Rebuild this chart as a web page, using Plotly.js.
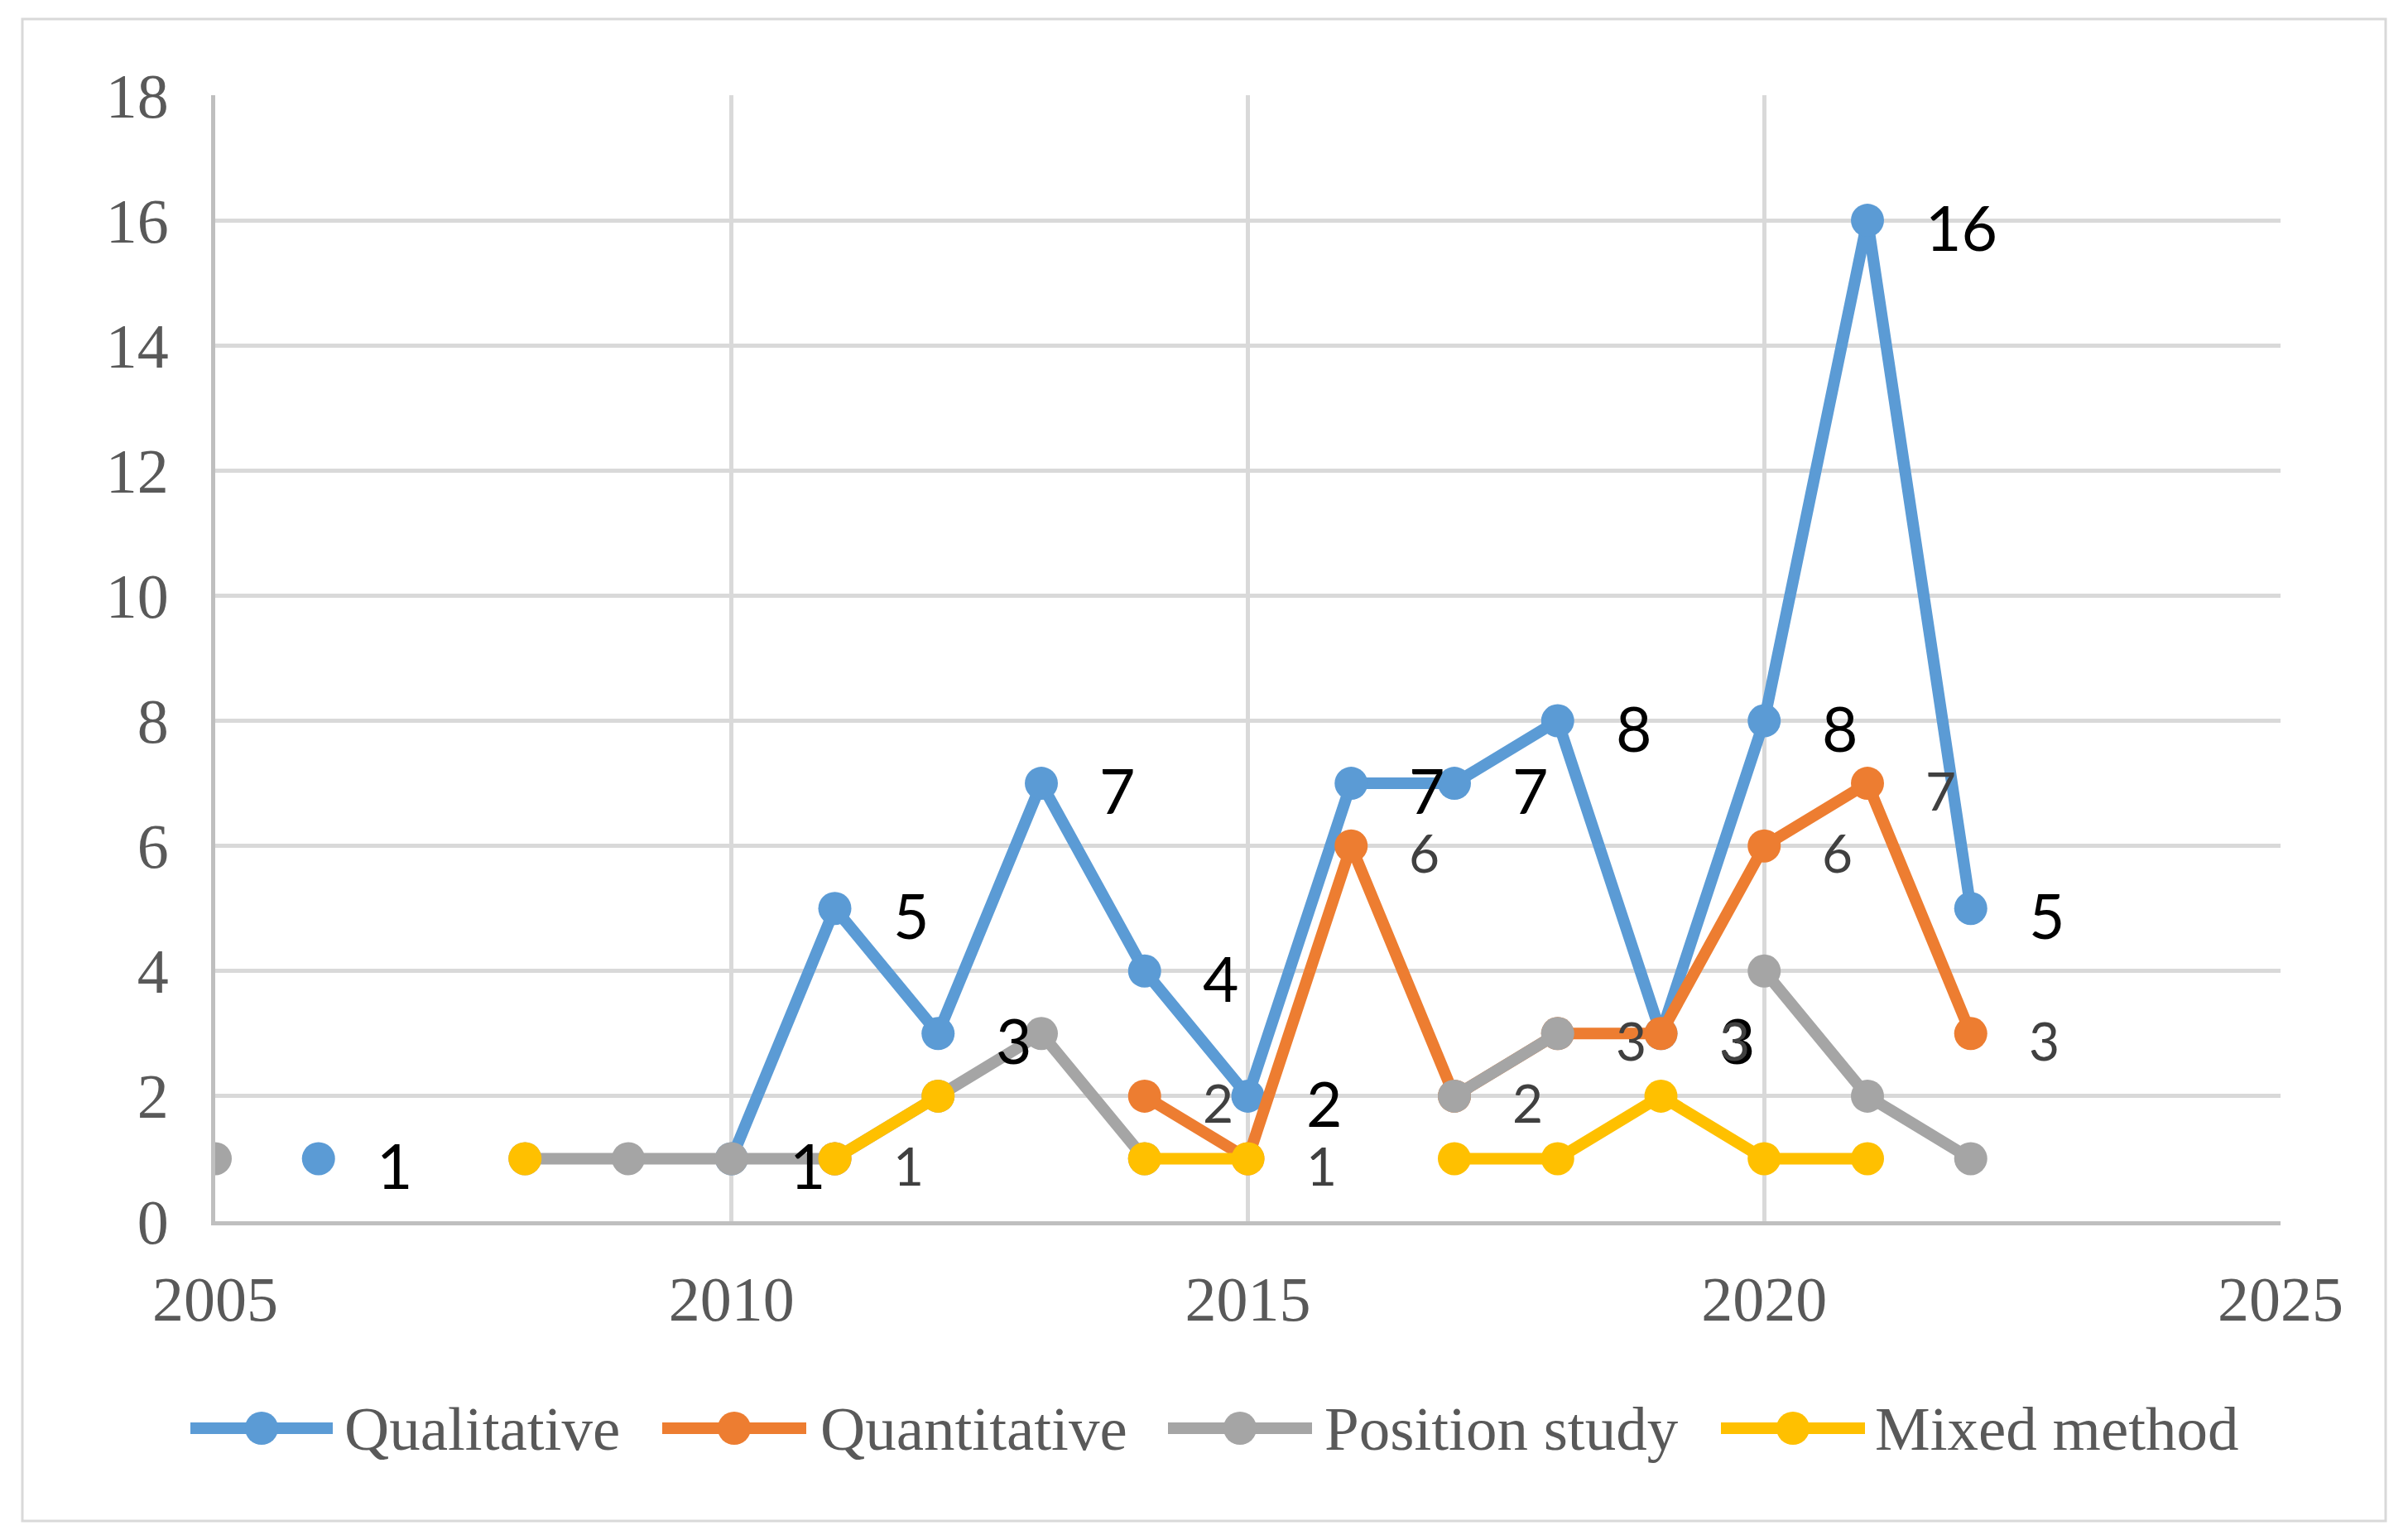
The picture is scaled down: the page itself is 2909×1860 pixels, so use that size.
<!DOCTYPE html>
<html>
<head>
<meta charset="utf-8">
<script src="https://cdn.plot.ly/plotly-3.0.1.min.js"></script>
<style>
html,body{margin:0;padding:0;background:#fff;}
#chart{width:2909px;height:1860px;}
</style>
</head>
<body>
<div id="chart"></div>
<script>
// ---- data ----
const years = [2005,2006,2007,2008,2009,2010,2011,2012,2013,2014,2015,2016,2017,2018,2019,2020,2021,2022];
const qualitative  = [null,1,null,null,null,1,5,3,7,4,2,7,7,8,3,8,16,5];
const quantitative = [null,null,null,null,null,null,1,null,null,2,1,6,2,3,3,6,7,3];
const position     = [1,null,null,1,1,1,1,2,3,1,null,null,2,3,null,4,2,1];
const mixed        = [null,null,null,1,null,null,1,2,null,1,1,null,1,1,2,1,1,null];
const seriesNames  = ["Qualitative","Quantitative","Position study","Mixed method"];
const xTicks = [2005,2010,2015,2020,2025];
const yTicks = [0,2,4,6,8,10,12,14,16,18];

// ---- style ----
const colors = ["#5B9BD5","#ED7D31","#A5A5A5","#FFC000"];
const W = 2909, H = 1860;
const M = {l:260, r:154, t:115, b:385};
const PW = W - M.l - M.r, PH = H - M.t - M.b;
const px = x => (x - M.l) / PW;
const py = y => (H - M.b - y) / PH;
const serif = "Liberation Serif, Times New Roman, serif";
const sans = "Lato, Noto Sans, sans-serif";

const allSeries = [qualitative, quantitative, position, mixed];
const traces = allSeries.map((vals, i) => ({
  type: "scatter",
  mode: "lines+markers",
  name: seriesNames[i],
  x: years,
  y: vals,
  connectgaps: false,
  line: {color: colors[i], width: 14},
  marker: {color: colors[i], size: 40, line: {width: 0}},
  showlegend: false,
  hoverinfo: "x+y"
}));

// data labels (Qualitative & Quantitative)
const annotations = [];
const labelCfg = [
  {vals: qualitative, color: "#000000", size: 75},
  {vals: quantitative, color: "#404040", size: 64}
];
labelCfg.forEach(cfg => {
  cfg.vals.forEach((v, k) => {
    if (v === null) return;
    annotations.push({
      x: years[k], y: v, xref: "x", yref: "y",
      text: String(v), showarrow: false,
      xanchor: "left", yanchor: "middle",
      xshift: 68, yshift: -8,
      font: {family: sans, size: cfg.size, color: cfg.color}
    });
  });
});

// manual legend
const legendY = 1725;
const legendItems = [
  {x0: 230, x1: 402, text: 414},
  {x0: 800, x1: 974, text: 989},
  {x0: 1411, x1: 1585, text: 1598},
  {x0: 2079, x1: 2253, text: 2263}
];
const shapes = [];
shapes.push({type: "rect", xref: "paper", yref: "paper",
  x0: px(27), x1: px(2882), y0: py(1837), y1: py(23),
  line: {color: "#D9D9D9", width: 3}, fillcolor: "rgba(0,0,0,0)", layer: "below"});
legendItems.forEach((it, i) => {
  shapes.push({type: "line", xref: "paper", yref: "paper",
    x0: px(it.x0), x1: px(it.x1), y0: py(legendY), y1: py(legendY),
    line: {color: colors[i], width: 14}});
  const cx = (it.x0 + it.x1) / 2;
  shapes.push({type: "circle", xref: "paper", yref: "paper",
    xsizemode: "pixel", ysizemode: "pixel",
    xanchor: px(cx), yanchor: py(legendY),
    x0: -20, x1: 20, y0: -20, y1: 20,
    fillcolor: colors[i], line: {width: 0}});
  annotations.push({xref: "paper", yref: "paper", x: px(it.text), y: py(legendY),
    xanchor: "left", yanchor: "middle", showarrow: false, text: seriesNames[i],
    font: {family: serif, size: 75, color: "#595959"}});
});

const layout = {
  width: W, height: H,
  margin: M,
  paper_bgcolor: "#ffffff",
  plot_bgcolor: "#ffffff",
  showlegend: false,
  xaxis: {
    range: [2005, 2025], tickvals: xTicks, ticktext: xTicks.map(String),
    showgrid: true, gridcolor: "#D9D9D9", gridwidth: 5,
    showline: true, linecolor: "#BFBFBF", linewidth: 5,
    zeroline: false, ticks: "", ticklabelstandoff: 24,
    tickfont: {family: serif, size: 76, color: "#595959"}
  },
  yaxis: {
    range: [0, 18], tickvals: yTicks, ticktext: yTicks.map(String),
    showgrid: true, gridcolor: "#D9D9D9", gridwidth: 5,
    showline: true, linecolor: "#BFBFBF", linewidth: 5,
    zeroline: false, ticks: "", ticklabelstandoff: 36,
    tickfont: {family: serif, size: 76, color: "#595959"}
  },
  shapes: shapes,
  annotations: annotations
};

Plotly.newPlot("chart", traces, layout, {staticPlot: true, displayModeBar: false});
</script>
</body>
</html>
